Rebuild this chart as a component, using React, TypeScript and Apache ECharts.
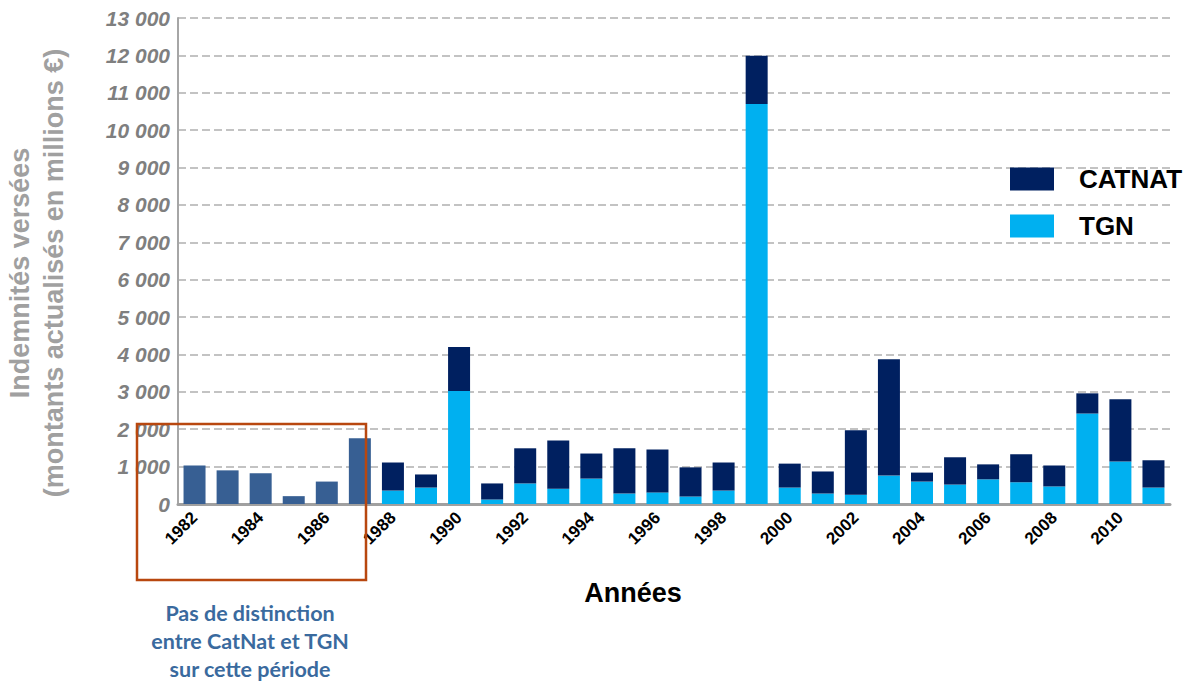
import React, { useEffect, useRef } from "react";
import * as echarts from "echarts";

const years = [
  "1982","1983","1984","1985","1986","1987","1988","1989","1990","1991",
  "1992","1993","1994","1995","1996","1997","1998","1999","2000","2001",
  "2002","2003","2004","2005","2006","2007","2008","2009","2010","2011",
];

// 1982-1987: no distinction between CatNat and TGN (total only)
const undistinguished = [1030, 900, 820, 210, 600, 1760];

// 1988-2011 totals and TGN parts
const totals1988 = [
  1110, 790, 4200, 550, 1490, 1700, 1350, 1490, 1460, 980, 1110, 11990,
  1080, 870, 1970, 3870, 840, 1250, 1060, 1330, 1030, 2960, 2800, 1170,
];
const tgn1988 = [
  360, 440, 3020, 120, 550, 410, 680, 280, 310, 200, 360, 10700,
  440, 280, 250, 760, 600, 520, 660, 580, 470, 2420, 1140, 440,
];

const yTicks = { min: 0, max: 13000, interval: 1000 };

const nPre = undistinguished.length;
const preSeries = years.map((_, i) => (i < nPre ? undistinguished[i] : null));
const tgnSeries = years.map((_, i) => (i < nPre ? null : tgn1988[i - nPre]));
const catnatSeries = years.map((_, i) =>
  i < nPre ? null : totals1988[i - nPre] - tgn1988[i - nPre]
);

export default function App() {
  const ref = useRef<HTMLDivElement>(null);

  useEffect(() => {
    if (!ref.current) return;
    const chart = echarts.init(ref.current, null, { renderer: "svg" });
    const fmt = (v: number) => {
      const s = String(Math.round(v));
      return s.length > 3 ? s.slice(0, s.length - 3) + " " + s.slice(-3) : s;
    };
    chart.setOption({
      animation: false,
      backgroundColor: "#ffffff",
      textStyle: { fontFamily: "Liberation Sans, Arial, sans-serif" },
      grid: { left: 178, right: 22, top: 18, bottom: 180 },
      legend: {
        data: ["CATNAT", "TGN"],
        orient: "vertical",
        left: 1010,
        top: 166,
        padding: 0,
        itemWidth: 44,
        itemHeight: 23,
        itemGap: 21,
        icon: "rect",
        textStyle: {
          fontSize: 26,
          fontWeight: "bold",
          color: "#000000",
          padding: [0, 0, 0, 20],
        },
      },
      xAxis: {
        type: "category",
        data: years,
        axisLine: { lineStyle: { color: "#a0a0a0", width: 3 } },
        axisTick: { show: false },
        axisLabel: {
          interval: 1,
          rotate: 45,
          fontSize: 17,
          fontWeight: "bold",
          color: "#000000",
          margin: 11,
        },
      },
      yAxis: {
        type: "value",
        min: yTicks.min,
        max: yTicks.max,
        interval: yTicks.interval,
        axisLine: { show: true, lineStyle: { color: "#a6a6a6", width: 2 } },
        axisTick: { show: false },
        splitLine: {
          lineStyle: { color: "#b0b0b0", type: [8, 4], width: 1.5 },
        },
        axisLabel: {
          formatter: fmt,
          fontSize: 21,
          fontWeight: "bold",
          fontStyle: "italic",
          color: "#7f7f7f",
          margin: 8,
        },
      },
      series: [
        {
          name: "Avant 1988",
          type: "bar",
          stack: "total",
          data: preSeries,
          barWidth: 22,
          itemStyle: { color: "#375f93" },
        },
        {
          name: "TGN",
          type: "bar",
          stack: "total",
          data: tgnSeries,
          barWidth: 22,
          itemStyle: { color: "#00b0f0" },
        },
        {
          name: "CATNAT",
          type: "bar",
          stack: "total",
          data: catnatSeries,
          barWidth: 22,
          itemStyle: { color: "#002060" },
        },
      ],
      graphic: [
        {
          type: "text",
          x: 37,
          y: 273,
          rotation: Math.PI / 2,
          style: {
            text: "Indemnités versées\n(montants actualisés en millions €)",
            fontSize: 27,
            fontWeight: "bold",
            fill: "#a0a0a0",
            align: "center",
            verticalAlign: "middle",
            lineHeight: 34,
            fontFamily: "Liberation Sans, Arial, sans-serif",
          },
        },
        {
          type: "text",
          x: 633,
          y: 593,
          style: {
            text: "Années",
            fontSize: 27,
            fontWeight: "bold",
            fill: "#000000",
            align: "center",
            verticalAlign: "middle",
            fontFamily: "Liberation Sans, Arial, sans-serif",
          },
        },
        {
          type: "rect",
          shape: { x: 137, y: 424, width: 229, height: 156 },
          style: { fill: "none", stroke: "#b8470f", lineWidth: 2.5 },
          z: 100,
        },
        {
          type: "text",
          x: 250,
          y: 641,
          style: {
            text: "Pas de distinction\nentre CatNat et TGN\nsur cette période",
            fontSize: 21.5,
            fontWeight: "bold",
            fill: "#3a6a9e",
            align: "center",
            verticalAlign: "middle",
            lineHeight: 28,
            fontFamily: "Lato, Open Sans, sans-serif",
          },
        },
      ],
    });
    return () => chart.dispose();
  }, []);

  return (
    <div
      ref={ref}
      style={{ position: "fixed", left: 0, top: 0, width: 1192, height: 684 }}
    />
  );
}
